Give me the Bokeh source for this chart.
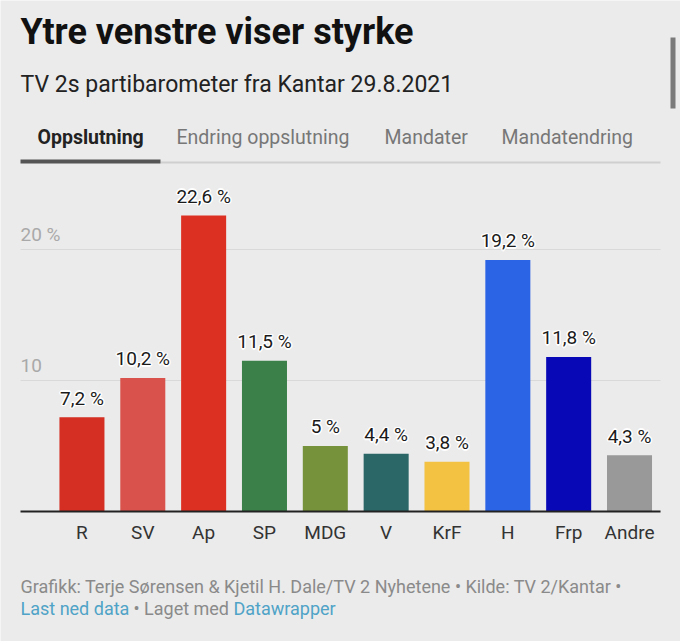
from bokeh.plotting import figure
from bokeh.models import Label, BoxAnnotation, ColumnDataSource, Range1d
from bokeh.core.properties import value
from bokeh.embed import file_html
from bokeh.resources import INLINE

# ---- data ----
parties = ["R", "SV", "Ap", "SP", "MDG", "V", "KrF", "H", "Frp", "Andre"]
shares = [7.2, 10.2, 22.6, 11.5, 5.0, 4.4, 3.8, 19.2, 11.8, 4.3]
colors = ["#d52e22", "#d9534c", "#dc3022", "#3b8049", "#76933b",
          "#2b6767", "#f4c243", "#2c64e6", "#0808b6", "#999999"]
y_ticks = [10, 20]
y_tick_labels = ["10", "20 %"]

title = "Ytre venstre viser styrke"
subtitle = "TV 2s partibarometer fra Kantar 29.8.2021"
tabs = ["Oppslutning", "Endring oppslutning", "Mandater", "Mandatendring"]
footer1 = "Grafikk: Terje Sørensen & Kjetil H. Dale/TV 2 Nyhetene • Kilde: TV 2/Kantar •"
footer_link1 = "Last ned data"
footer_mid = "• Laget med"
footer_link2 = "Datawrapper"

BG = "#ebebeb"
FONT = "Roboto"
W, H = 680, 641

# plot-area extents in data units (left/right edge of the chart body)
X_LEFT, X_RIGHT = -1.01, 9.51

labels = [("%g" % v).replace(".", ",") + " %" for v in shares]
src = ColumnDataSource(dict(x=list(range(len(parties))), top=shares,
                            color=colors, label=labels, name=parties,
                            zero=[0] * len(parties)))

p = figure(width=W, height=H, output_backend="svg", toolbar_location=None,
           x_range=Range1d(-1.3388, 9.838), y_range=Range1d(-9.9237, 39.0076),
           x_axis_location=None, y_axis_location=None,
           min_border=0, min_border_left=0, min_border_right=0,
           min_border_top=0, min_border_bottom=0,
           background_fill_color=BG, border_fill_color=BG,
           outline_line_color=None)
p.grid.visible = False

# grid lines
p.segment(x0=[X_LEFT] * len(y_ticks), x1=[X_RIGHT] * len(y_ticks),
          y0=y_ticks, y1=y_ticks, line_color="#d9d9d9", line_width=1)

p.vbar(x="x", top="top", bottom=0, width=0.74, fill_color="color",
       line_color=None, source=src)

# baseline (x axis line)
p.segment(x0=[X_LEFT], x1=[X_RIGHT], y0=[0], y1=[0],
          line_color="#222222", line_width=2)

# category labels
p.text(x="x", y="zero", text="name", source=src, y_offset=21,
       text_align="center", text_baseline="alphabetic", text_color="#333333",
       text_font=value(FONT), text_font_size="19px")

# value labels with white halo
for dx, dy in [(-1.5, 0), (1.5, 0), (0, -1.5), (0, 1.5),
               (-1, -1), (1, 1), (-1, 1), (1, -1)]:
    p.text(x="x", y="top", text="label", source=src, x_offset=dx, y_offset=-19 + dy,
           text_align="center", text_baseline="alphabetic", text_color="white",
           text_font=value(FONT), text_font_size="19px")
p.text(x="x", y="top", text="label", source=src, y_offset=-19,
       text_align="center", text_baseline="alphabetic", text_color="#1a1a1a",
       text_font=value(FONT), text_font_size="19px")

# y tick labels above grid lines
p.text(x=[X_LEFT] * len(y_ticks), y=y_ticks, text=y_tick_labels, y_offset=-15,
       text_align="left", text_baseline="alphabetic", text_color="#a9a9a9",
       text_font=value(FONT), text_font_size="19px")


def lab(text, x, y, size, color, bold=False):
    p.add_layout(Label(x=x, y=y, x_units="screen", y_units="screen", text=text,
                       text_font=FONT, text_font_size=size, text_color=color,
                       text_font_style="bold" if bold else "normal",
                       text_baseline="alphabetic", text_align="left"))


def box(l, r, t, b, color):
    p.add_layout(BoxAnnotation(left=l, right=r, top=t, bottom=b,
                               left_units="screen", right_units="screen",
                               top_units="screen", bottom_units="screen",
                               fill_color=color, fill_alpha=1, line_color=None))


lab(title, 20, 610, "36px", "#111111", bold=True)
lab(subtitle, 20, 557, "23px", "#222222")
tab_x = [37, 176, 384, 501]
for i, (t, tx) in enumerate(zip(tabs, tab_x)):
    lab(t, tx, 504, "19.5px", "#222222" if i == 0 else "#777777", bold=(i == 0))

box(160, 660, 480, 478, "#cfcfcf")
box(20, 160, 482, 478, "#555555")
box(670, 675, 604, 533, "#7a7a7a")  # scrollbar

lab(footer1, 20, 55, "18px", "#8a8a8a")
lab(footer_link1, 20, 33, "18px", "#4fa3c7")
lab(footer_mid, 133, 33, "18px", "#8a8a8a")
lab(footer_link2, 233, 33, "18px", "#4fa3c7")

open("out.html", "w").write(file_html(p, INLINE))
